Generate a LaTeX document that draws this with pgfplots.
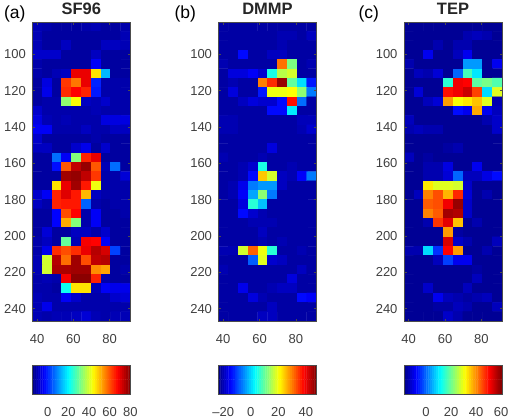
\documentclass[border=0pt]{standalone}
\usepackage{pgfplots}
\pgfplotsset{compat=1.18}
\usepackage{fontspec}
\setmainfont{Liberation Sans}
\definecolor{tk}{gray}{0.25}
\pgfplotsset{
  hm/.style={
    scale only axis, width=98pt, height=299pt,
    anchor=north west,
    xmin=37.4, xmax=91.4, ymin=82.2, ymax=246.8, y dir=reverse,
    xtick={40,60,80}, ytick={100,120,...,240},
    axis on top, axis line style={color=black!70,line width=0.7pt},
    tick style={color=black!70,line width=0.5pt}, tickwidth=2.5pt,
    /pgf/number format/assume math mode=true,
    ticklabel style={font=\fontsize{13}{13}\selectfont,color=tk},
    xticklabel style={yshift=-10pt},
    yticklabel style={xshift=-3pt},
    colormap/jet,
    title style={font=\fontsize{16.5}{16.5}\selectfont\bfseries,yshift=-2.5pt,color=black!85},
  },
  cbar/.style={
    scale only axis, width=98pt, height=29pt, anchor=north west,
    xmin=0, xmax=1, ymin=0, ymax=1, ytick=\empty, xtick pos=lower,
    axis on top, axis line style={color=black!70,line width=0.7pt},
    major tick length=0pt, colormap/jet, point meta min=0, point meta max=1,
    ticklabel style={font=\fontsize{13}{13}\selectfont,color=tk},
    xticklabel style={yshift=-10pt},
  },
  gridplot/.style={matrix plot*, shader=flat corner, draw=none, mesh/cols=10, point meta=explicit},
  barplot/.style={matrix plot*, shader=flat corner, draw=none, mesh/cols=48, point meta=x},
  /pgfplots/table/gridtab/.style={
    /pgfplots/table/row sep=crcr, /pgfplots/table/header=false,
    /pgfplots/table/x expr={37.4+5.4*(\coordindex-10*floor((\coordindex+0.5)/10)+0.5)},
    /pgfplots/table/y expr={82.2+5.144*(floor((\coordindex+0.5)/10)+0.5)},
    /pgfplots/table/meta index=0},
  /pgfplots/table/bartab/.style={
    /pgfplots/table/row sep=crcr, /pgfplots/table/header=false,
    /pgfplots/table/x expr={(\coordindex-48*floor((\coordindex+0.5)/48)+0.5)/48},
    /pgfplots/table/y expr={(floor((\coordindex+0.5)/48)+0.5)/2}},
}
\begin{document}
\begin{tikzpicture}
\path[use as bounding box] (0pt,0pt) rectangle (510pt,-418pt);
\node[anchor=base west,font=\fontsize{17.5}{17.5}\selectfont] at (0.5pt,-18pt) {(a)};
\node[anchor=base west,font=\fontsize{17.5}{17.5}\selectfont] at (171pt,-18pt) {(b)};
\node[anchor=base west,font=\fontsize{17.5}{17.5}\selectfont] at (355pt,-18pt) {(c)};

\begin{axis}[hm, at={(32.3pt,-22pt)}, title={SF96}, point meta min=-15, point meta max=80]
\addplot[gridplot] table[gridtab] {
-10\\-11\\-12\\-12\\-12\\-11\\-10\\-12\\-12\\-11\\
-10\\-12\\-12\\-12\\-12\\-12\\-12\\-12\\-12\\-10\\
-10\\-12\\-12\\-9\\-12\\-12\\-12\\-9\\-9\\-10\\
-8\\-8\\-8\\-12\\-12\\-12\\-9\\-12\\-12\\-12\\
-11\\-12\\-12\\-12\\-12\\-12\\-4\\-12\\-12\\-12\\
-11\\-12\\-10\\-9\\70\\70\\47\\14\\-12\\-12\\
-12\\-6\\-12\\63\\57\\70\\0\\-11\\-11\\-11\\
-12\\-5\\-12\\64\\68\\65\\-1\\-11\\-11\\-11\\
-12\\-11\\-11\\34\\44\\-9\\-10\\-8\\-11\\-11\\
-8\\-11\\-11\\-11\\-11\\-11\\-10\\-11\\-11\\-11\\
-6\\-10\\-11\\-10\\-11\\-11\\-11\\-6\\-6\\-6\\
-4\\-4\\-11\\-11\\-11\\-9\\-11\\-11\\-9\\-9\\
-8\\-12\\-12\\-12\\-12\\-12\\-11\\-12\\-12\\-12\\
-9\\-9\\-12\\-12\\-8\\-5\\-12\\-8\\-12\\-12\\
-12\\-12\\7\\-4\\33\\65\\70\\-12\\-12\\-12\\
-12\\-12\\-2\\60\\74\\78\\60\\-10\\7\\-12\\
-12\\-12\\-12\\77\\78\\74\\63\\-11\\-11\\-7\\
-12\\-12\\47\\70\\77\\66\\43\\-11\\-11\\-11\\
-8\\-4\\65\\71\\66\\51\\-9\\-11\\-11\\-11\\
-9\\-11\\65\\66\\66\\6\\-11\\-12\\-11\\-11\\
-12\\-12\\-3\\61\\68\\-11\\-4\\-12\\-12\\-11\\
-12\\-12\\-3\\52\\33\\-11\\-4\\-12\\-12\\-12\\
-12\\-7\\-12\\-12\\-9\\-9\\-11\\-8\\-12\\-12\\
-11\\-9\\-12\\30\\-10\\69\\68\\-4\\-12\\-12\\
-11\\-5\\64\\61\\64\\70\\75\\72\\3\\-12\\
-10\\40\\75\\58\\77\\61\\74\\75\\-12\\-12\\
-10\\40\\76\\76\\77\\77\\55\\53\\-12\\-11\\
-11\\-10\\-11\\69\\79\\79\\65\\-11\\-12\\-12\\
-11\\-11\\-12\\22\\47\\47\\-10\\-4\\-5\\-5\\
-10\\-11\\-11\\-4\\-8\\-11\\-11\\-11\\-8\\-7\\
-10\\-5\\-11\\-11\\-11\\-11\\-11\\-11\\-11\\-11\\
-10\\-11\\-10\\-10\\-9\\-7\\-10\\-11\\-10\\-10\\
};
\end{axis}

\begin{axis}[hm, at={(218.5pt,-22pt)}, title={DMMP}, point meta min=-23.5, point meta max=47.8]
\addplot[gridplot] table[gridtab] {
-21\\-21\\-21\\-21\\-21\\-21\\-21\\-21\\-21\\-21\\
-21\\-21\\-21\\-21\\-21\\-21\\-20\\-20\\-21\\-19\\
-21\\-21\\-21\\-21\\-21\\-21\\-20\\-21\\-21\\-21\\
-21\\-21\\-14\\-21\\-21\\-19\\-19\\-21\\-21\\-21\\
-20\\-21\\-21\\-21\\-21\\-21\\31\\12\\-21\\-20\\
-21\\-17\\-17\\-15\\-18\\5\\16\\18\\-21\\-21\\
-21\\-20\\-21\\-21\\30\\36\\46\\10\\1\\-13\\
-21\\-17\\-21\\-21\\-13\\20\\20\\21\\13\\-6\\
-21\\-21\\-19\\-17\\-18\\-18\\-14\\38\\-7\\-21\\
-21\\-21\\-21\\-21\\-21\\-14\\-14\\2\\-21\\-21\\
-20\\-20\\-21\\-21\\-21\\-21\\-21\\-21\\-19.5\\-19.5\\
-20\\-20\\-21\\-21\\-21\\-21\\-21\\-21\\-20\\-18\\
-21\\-21\\-21\\-21\\-21\\-21\\-21\\-21\\-21\\-21\\
-21\\-21\\-21\\-21\\-21\\-17\\-21\\-21\\-21\\-21\\
-20\\-21\\-21\\-21\\-20\\-21\\-21\\-21\\-21\\-21\\
-21\\-21\\-20\\-18\\5\\-21\\-21\\-20\\-21\\-21\\
-21\\-21\\-20\\-14\\25\\18\\-19\\-20\\-15\\-6\\
-21\\-20\\-16\\-6\\-4\\-4\\-19\\-21\\-21\\-21\\
-21\\-20\\-15\\-3\\13\\-6\\-21\\-21\\-21\\-21\\
-21\\-21\\-17\\6\\-1\\-21\\-21\\-21\\-21\\-21\\
-21\\-21\\-14\\-18\\-20\\-21\\-21\\-21\\-21\\-21\\
-21\\-21\\-21\\-20\\-20\\-20\\-21\\-21\\-21\\-21\\
-21\\-21\\-21\\-21\\-19\\-21\\-21\\-21\\-21\\-21\\
-21\\-21\\-21\\-21\\-20\\-21\\-20\\-21\\-21\\-21\\
-20\\-20\\18\\32\\20\\6\\-21\\-21\\-20\\-21\\
-21\\-21\\-21\\-8\\19\\-18\\-19\\-21\\-21\\-21\\
-20\\-21\\-21\\-21\\-21\\-21\\-21\\-21\\-19\\-21\\
-21\\-21\\-21\\-21\\-21\\-21\\-21\\-17\\-21\\-21\\
-21\\-21\\-16\\-21\\-21\\-20\\-19\\-19\\-21\\-21\\
-21\\-21\\-21\\-17\\-20\\-21\\-21\\-21\\-14\\-15\\
-21\\-21\\-21\\-21\\-21\\-19\\-21\\-21\\-21\\-21\\
-21\\-21\\-21\\-21\\-19\\-19\\-21\\-21\\-21\\-21\\
};
\end{axis}

\begin{axis}[hm, at={(404pt,-22pt)}, title={TEP}, point meta min=-17.6, point meta max=60.8]
\addplot[gridplot] table[gridtab] {
-16\\-16\\-16\\-16\\-16\\-16\\-16\\-16\\-16\\-16\\
-16\\-16\\-16\\-16\\-16\\-16\\-14\\-13\\-14\\-16\\
-16\\-16\\-16\\-14\\-16\\-14\\-14\\-16\\-16\\-16\\
-16\\-16\\-9\\-16\\-16\\-13\\-9\\-16\\-16\\-16\\
-14\\-16\\-16\\-16\\-16\\-16\\4\\4\\-16\\-9\\
-16\\-13\\-14\\-11\\-16\\0\\17\\10\\-16\\-16\\
-16\\-16\\-16\\-16\\15\\52\\51\\19\\21\\18\\
-16\\-11\\-16\\-16\\50\\52\\55\\46\\9\\29\\
-16\\-16\\-13\\-11\\39\\31\\33\\36\\29\\-14\\
-16\\-16\\-16\\-16\\-16\\-7\\-9\\38\\-9\\-13\\
-13\\-16\\-16\\-16\\-16\\-16\\-16\\-16\\-14\\-12\\
-14\\-13\\-14\\-14\\-16\\-16\\-16\\-16\\-16\\-12\\
-16\\-16\\-16\\-16\\-16\\-16\\-16\\-16\\-16\\-16\\
-16\\-16\\-16\\-16\\-15\\-14\\-16\\-16\\-16\\-16\\
-13\\-16\\-15\\-16\\-16\\-16\\-16\\-16\\-16\\-16\\
-16\\-16\\-14\\-14\\-10\\-16\\-16\\-9\\-16\\-16\\
-16\\-16\\-14\\-14\\-11\\0\\-13\\-13\\-10\\-7\\
-16\\-16\\33\\29\\29\\28\\-12\\-16\\-16\\-16\\
-16\\-13\\41\\45\\37\\48\\-11\\-16\\-14\\-16\\
-16\\-16\\44\\45\\52\\59\\-12\\-16\\-16\\-16\\
-16\\-16\\41\\44\\58\\57\\-12\\-16\\-16\\-16\\
-16\\-16\\-14\\47\\53\\36\\-16\\-14\\-16\\-16\\
-16\\-16\\-16\\-16\\39\\-15\\-16\\-16\\-16\\-16\\
-16\\-16\\-16\\-16\\54\\-12\\-14\\-16\\-16\\-13\\
-14\\-14\\9\\-4\\51\\39\\-16\\-16\\-14\\-16\\
-16\\-16\\-16\\-13\\-3\\-9\\-9\\-16\\-16\\-16\\
-16\\-16\\-16\\-16\\-16\\-16\\-16\\-15\\-16\\-16\\
-16\\-16\\-16\\-16\\-16\\-16\\-16\\-13\\-16\\-16\\
-16\\-16\\-12\\-16\\-16\\-16\\-13\\-16\\-16\\-16\\
-16\\-16\\-16\\-9\\-13\\-14\\-15\\-14\\-13\\-16\\
-16\\-16\\-16\\-15\\-15\\-13\\-14\\-16\\-16\\-13\\
-16\\-16\\-16\\-16\\-12\\-14\\-16\\-16\\-16\\-16\\
};
\end{axis}

\begin{axis}[cbar, at={(32.3pt,-365pt)}, xtick={0.1579,0.3684,0.5789,0.7895,1}, xticklabels={0,20,40,60,80}]
\addplot[barplot] table[bartab] {
0\\0\\0\\0\\0\\0\\0\\0\\0\\0\\0\\0\\0\\0\\0\\0\\0\\0\\0\\0\\0\\0\\0\\0\\
0\\0\\0\\0\\0\\0\\0\\0\\0\\0\\0\\0\\0\\0\\0\\0\\0\\0\\0\\0\\0\\0\\0\\0\\
0\\0\\0\\0\\0\\0\\0\\0\\0\\0\\0\\0\\0\\0\\0\\0\\0\\0\\0\\0\\0\\0\\0\\0\\
0\\0\\0\\0\\0\\0\\0\\0\\0\\0\\0\\0\\0\\0\\0\\0\\0\\0\\0\\0\\0\\0\\0\\0\\
};
\end{axis}
\begin{axis}[cbar, at={(218.5pt,-365pt)}, xtick={0.0491,0.3296,0.6101,0.8906}, xticklabels={--20,0,20,40}]
\addplot[barplot] table[bartab] {
0\\0\\0\\0\\0\\0\\0\\0\\0\\0\\0\\0\\0\\0\\0\\0\\0\\0\\0\\0\\0\\0\\0\\0\\
0\\0\\0\\0\\0\\0\\0\\0\\0\\0\\0\\0\\0\\0\\0\\0\\0\\0\\0\\0\\0\\0\\0\\0\\
0\\0\\0\\0\\0\\0\\0\\0\\0\\0\\0\\0\\0\\0\\0\\0\\0\\0\\0\\0\\0\\0\\0\\0\\
0\\0\\0\\0\\0\\0\\0\\0\\0\\0\\0\\0\\0\\0\\0\\0\\0\\0\\0\\0\\0\\0\\0\\0\\
};
\end{axis}
\begin{axis}[cbar, at={(404pt,-365pt)}, xtick={0.2245,0.4796,0.7347,0.9898}, xticklabels={0,20,40,60}]
\addplot[barplot] table[bartab] {
0\\0\\0\\0\\0\\0\\0\\0\\0\\0\\0\\0\\0\\0\\0\\0\\0\\0\\0\\0\\0\\0\\0\\0\\
0\\0\\0\\0\\0\\0\\0\\0\\0\\0\\0\\0\\0\\0\\0\\0\\0\\0\\0\\0\\0\\0\\0\\0\\
0\\0\\0\\0\\0\\0\\0\\0\\0\\0\\0\\0\\0\\0\\0\\0\\0\\0\\0\\0\\0\\0\\0\\0\\
0\\0\\0\\0\\0\\0\\0\\0\\0\\0\\0\\0\\0\\0\\0\\0\\0\\0\\0\\0\\0\\0\\0\\0\\
};
\end{axis}
\end{tikzpicture}
\end{document}
